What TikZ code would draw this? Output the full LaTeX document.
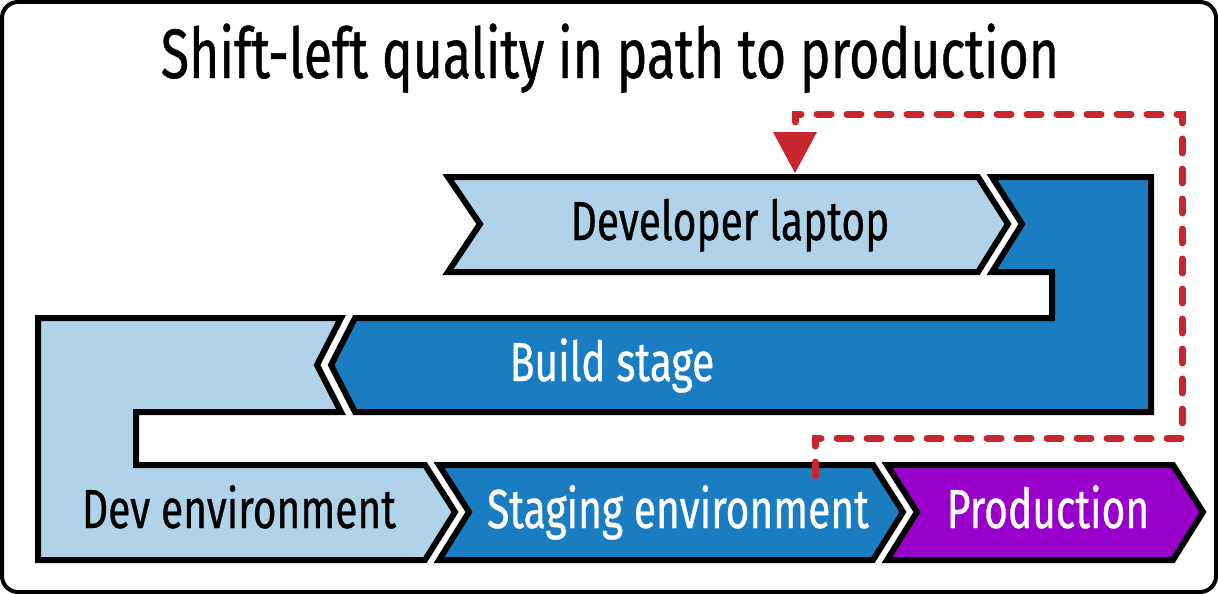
\documentclass[tikz,border=0pt]{standalone}
\usepackage{fontspec}
\setmainfont{Fira Sans}[FakeStretch=0.74, FakeBold=0.6]
\usetikzlibrary{arrows.meta}

\definecolor{lightblue}{RGB}{176,211,233}
\definecolor{darkblue}{RGB}{27,125,193}
\definecolor{prodpurple}{RGB}{153,0,204}
\definecolor{fbred}{RGB}{200,38,46}

\tikzset{
  stage/.style = {draw=black, line width=6pt, line join=miter},
  lbl/.style = {font=\fontsize{55}{60}\selectfont, inner sep=0pt, anchor=base},
  feedback/.style = {draw=fbred, line width=7pt, line cap=round,
    dash pattern=on 14pt off 16pt},
}

\begin{document}
\begin{tikzpicture}[x=1pt, y=-1pt]
\useasboundingbox (0,0) rectangle (1218,594);
\draw[line width=4pt, rounded corners=16pt] (2,2) rectangle (1216,592);
\path (610,78) node[anchor=base, inner sep=0pt] (title)
  {\fontsize{70}{76}\selectfont Shift-left quality in path to production};

% stages
\draw[stage, fill=lightblue] (448,177) -- (978,177) -- (1008,224) -- (978,272)
  -- (448,272) -- (480,224) -- cycle;
\draw[stage, fill=darkblue] (992,177) -- (1151,177) -- (1151,412) -- (355,412)
  -- (331,365) -- (355,318) -- (1052,318) -- (1052,272) -- (992,272)
  -- (1022,224) -- cycle;
\draw[stage, fill=lightblue] (38,318) -- (341,318) -- (317,365) -- (341,412)
  -- (136,412) -- (136,465) -- (425,465) -- (455,512) -- (425,560)
  -- (38,560) -- cycle;
\draw[stage, fill=darkblue] (439,465) -- (873,465) -- (903,512) -- (873,560)
  -- (439,560) -- (469,512) -- cycle;
\draw[stage, fill=prodpurple] (887,465) -- (1173,465) -- (1203,512) -- (1173,560)
  -- (887,560) -- (917,512) -- cycle;

\path (730,240) node[lbl] (laptop) {Developer laptop};
\path (612,381) node[lbl, text=white] (build) {Build stage};
\path (239,528) node[lbl] (devenv) {Dev environment};
\path (678,528) node[lbl, text=white] (staging) {Staging environment};
\path (1048,528) node[lbl, text=white] (prod) {Production};

% loop back to the laptop
\coordinate (fbstart) at (815,476);
\coordinate (fbend) at (795,173);
\draw[feedback] (fbstart) -- ++(0,-38) -| ++(367,-324) -| (795,132);
\fill[fbred] (773,132) -- (817,132) -- (fbend) -- cycle;
\end{tikzpicture}
\end{document}
